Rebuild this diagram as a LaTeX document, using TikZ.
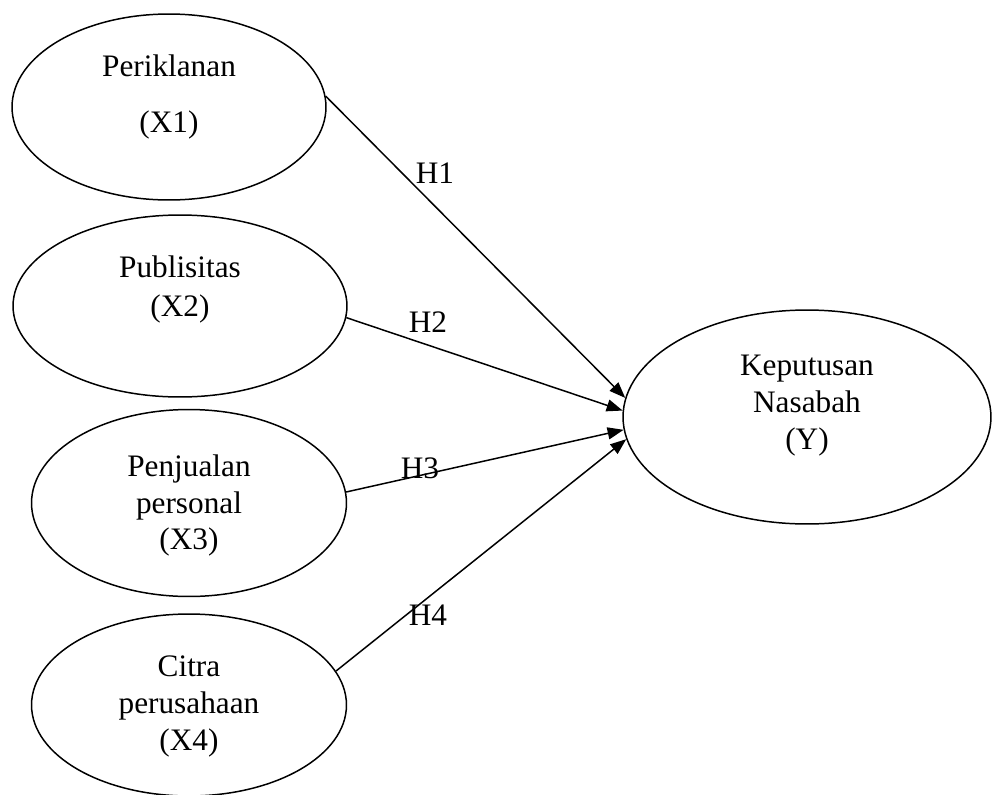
\documentclass[tikz,border=0pt]{standalone}
\usepackage{fontspec}
\setmainfont{Liberation Serif}
\usetikzlibrary{shapes.geometric, arrows.meta}

\begin{document}
\begin{tikzpicture}[x=0.02cm, y=-0.02cm, font=\fontsize{17.8}{21}\selectfont]
        \tikzstyle{construct} = [ellipse, draw=black, line width=0.85pt, inner sep=0pt]
        \tikzstyle{vartext} = [align=center, inner sep=0pt]
        \tikzstyle{hyp} = [inner sep=0pt]
        \tikzstyle{arrow} = [line width=0.85pt, -{Triangle[length=0.32cm, width=0.24cm]}]

        \useasboundingbox (0,0) rectangle (992,795);

        \node (x1) [construct, minimum width=6.28cm, minimum height=3.72cm, label={[vartext, yshift=0.2cm]center:{Periklanan\\[11pt](X1)}}] at (169,107) {};
        \node (x2) [construct, minimum width=6.68cm, minimum height=3.64cm, label={[vartext, yshift=0.33cm]center:{Publisitas\\[1pt](X2)}}] at (180,306) {};
        \node (x3) [construct, minimum width=6.3cm, minimum height=3.74cm, label={[vartext, yshift=-0.05cm]center:{Penjualan\\personal\\(X3)}}] at (189,503) {};
        \node (x4) [construct, minimum width=6.3cm, minimum height=3.64cm, label={[vartext, yshift=-0.03cm]center:{Citra\\perusahaan\\(X4)}}] at (189,705) {};
        \node (y) [construct, minimum width=7.36cm, minimum height=4.28cm, label={[vartext, yshift=0.23cm]center:{Keputusan\\Nasabah\\(Y)}}] at (807,417) {};

        \node (h1) [hyp] at (435,173) {H1};
        \node (h2) [hyp] at (428,322) {H2};
        \node (h3) [hyp] at (420,468) {H3};
        \node (h4) [hyp] at (428,615) {H4};

        \draw [arrow] (x1.4) -- (y.174);
        \draw [arrow] (x2.-4) -- (y.178.5);
        \draw [arrow] (x3.4) -- (y.184.7);
        \draw [arrow] (x4.13) -- (y.187.7);
    \end{tikzpicture}
\end{document}
